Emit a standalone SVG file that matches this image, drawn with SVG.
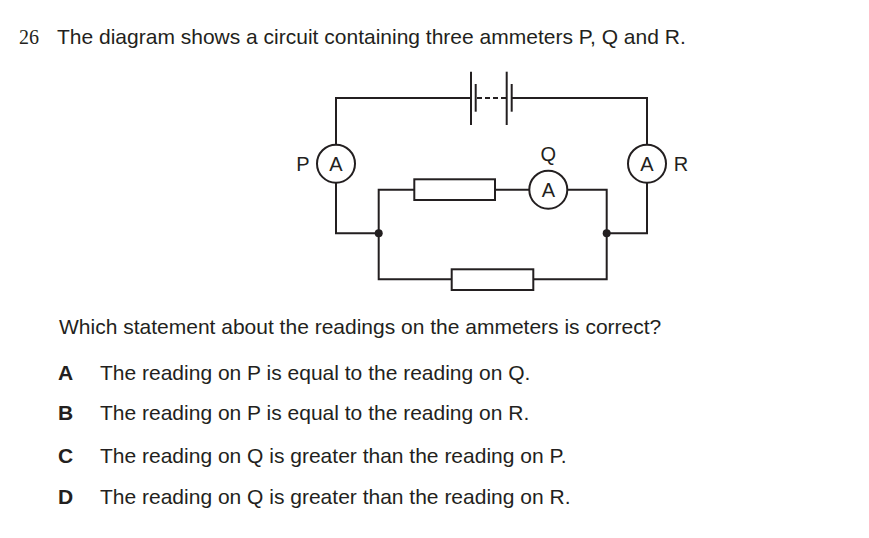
<svg xmlns="http://www.w3.org/2000/svg" width="869" height="538" viewBox="0 0 869 538">
<style>
.w{fill:none;stroke:#231f20;stroke-width:2}
.m{fill:#fff;stroke:#231f20;stroke-width:2}
.t{font-family:"Liberation Sans",Arial,sans-serif;font-size:21px;fill:#231f20}
.l{font-family:"Liberation Sans",Arial,sans-serif;font-size:20px;fill:#231f20;text-anchor:middle}
.b{font-weight:bold}
</style>
<rect width="869" height="538" fill="#fff"/>
<text x="19" y="44" style="font-family:'Liberation Serif',serif;font-size:20px;fill:#231f20">26</text>
<text x="57" y="44" class="t">The diagram shows a circuit containing three ammeters P, Q and R.</text>
<g id="connectors">
<polyline class="w" points="471,98 336,98 336,145"/>
<polyline class="w" points="336,182.7 336,233.3 378.7,233.3"/>
<polyline class="w" points="511.7,98 647,98 647,145"/>
<polyline class="w" points="647,182.7 647,233.3 606.7,233.3"/>
<polyline class="w" points="414.3,189.7 378.7,189.7 378.7,279.3 451.7,279.3"/>
<line class="w" x1="495" y1="189.7" x2="529.3" y2="189.7"/>
<polyline class="w" points="567.3,189.7 606.7,189.7 606.7,279.3 533.3,279.3"/>
<circle cx="378.7" cy="233.3" r="4" fill="#231f20"/>
<circle cx="606.7" cy="233.3" r="4" fill="#231f20"/>
</g>
<g id="battery">
<line class="w" x1="471" y1="71.7" x2="471" y2="125"/>
<line class="w" x1="475.7" y1="84" x2="475.7" y2="111.7"/>
<line class="w" x1="477" y1="98" x2="506" y2="98" stroke-dasharray="5,3"/>
<line class="w" x1="506.7" y1="71.7" x2="506.7" y2="125"/>
<line class="w" x1="511.7" y1="84" x2="511.7" y2="111.7"/>
</g>
<g id="P"><circle class="m" cx="336" cy="163.7" r="19"/><text x="336" y="171" class="l">A</text><text x="303" y="171" class="l">P</text></g>
<g id="R"><circle class="m" cx="647" cy="163.7" r="19"/><text x="647" y="171" class="l">A</text><text x="681" y="171" class="l">R</text></g>
<g id="Q"><circle class="m" cx="548.3" cy="189.7" r="19"/><text x="548.3" y="197" class="l">A</text><text x="548.3" y="161" class="l">Q</text></g>
<g id="res1"><rect class="m" x="414.3" y="179.3" width="80.7" height="20.7"/></g>
<g id="res2"><rect class="m" x="451.7" y="269.3" width="81.6" height="20.7"/></g>
<text x="59" y="334" class="t">Which statement about the readings on the ammeters is correct?</text>
<text x="58" y="380" class="t b">A</text><text x="100" y="380" class="t">The reading on P is equal to the reading on Q.</text>
<text x="58" y="420" class="t b">B</text><text x="100" y="420" class="t">The reading on P is equal to the reading on R.</text>
<text x="58" y="463" class="t b">C</text><text x="100" y="463" class="t">The reading on Q is greater than the reading on P.</text>
<text x="58" y="504" class="t b">D</text><text x="100" y="504" class="t">The reading on Q is greater than the reading on R.</text>
</svg>
